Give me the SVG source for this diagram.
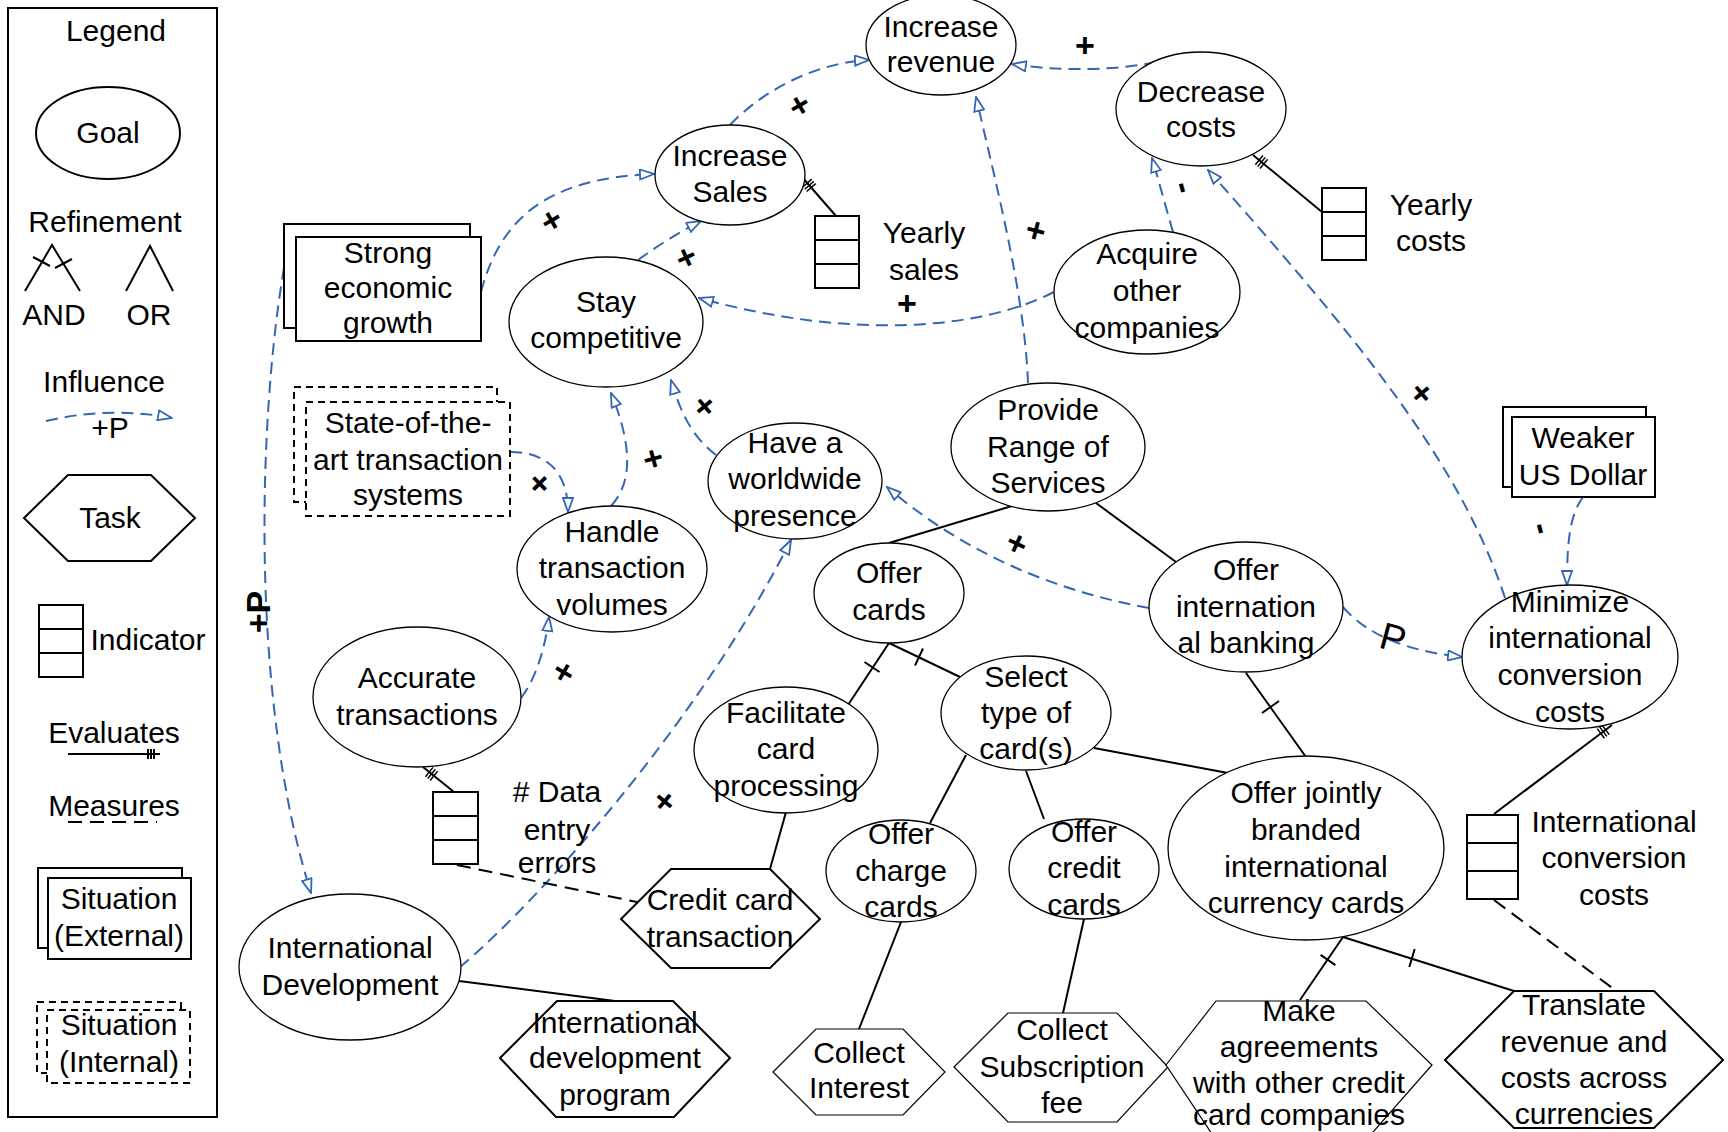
<svg xmlns="http://www.w3.org/2000/svg" width="1728" height="1132" viewBox="0 0 1728 1132">
<style>
text{font-family:"Liberation Sans",Arial,sans-serif;font-size:30px;fill:#000;text-anchor:middle}
.goal{fill:#fff;stroke:#000;stroke-width:1.3}
.box{fill:#fff;stroke:#000;stroke-width:2}
.dbox{fill:#fff;stroke:#000;stroke-width:2;stroke-dasharray:7 5}
.task{fill:#fff;stroke:#000;stroke-width:2}
.task-thin{fill:#fff;stroke:#000;stroke-width:1.2}
.ind{fill:#fff;stroke:#000;stroke-width:2}
.inf{fill:none;stroke:#3366b3;stroke-width:2;stroke-dasharray:12 7;marker-end:url(#open)}
.ref{fill:none;stroke:#000;stroke-width:2}
.evl{fill:none;stroke:#000;stroke-width:2;marker-start:url(#eval)}
.mea{fill:none;stroke:#000;stroke-width:2;stroke-dasharray:14 8}
.lbl{dominant-baseline:central;font-size:34px;font-weight:bold}
.lblp{dominant-baseline:central;font-size:38px}
</style>
<defs>
<marker id="open" viewBox="0 0 16 12" refX="15" refY="6" markerWidth="16" markerHeight="12" markerUnits="userSpaceOnUse" orient="auto">
<path d="M1,1 L15,6 L1,11 z" fill="#fff" stroke="#3366b3" stroke-width="1.8"/>
</marker>
<marker id="eval" viewBox="-2 -8 26 16" refX="0" refY="0" markerWidth="26" markerHeight="16" markerUnits="userSpaceOnUse" orient="auto" overflow="visible">
<path d="M8,-6 L8,6 M11,-6 L11,6 M14,-6 L14,6" stroke="#000" stroke-width="1.5" fill="none"/>
</marker>
</defs>

<!-- Legend -->
<g id="legend">
<rect x="8" y="8" width="209" height="1109" fill="#fff" stroke="#000" stroke-width="2"/>
<text x="116" y="41">Legend</text>
<ellipse cx="108" cy="133" rx="72" ry="46" fill="#fff" stroke="#000" stroke-width="2"/>
<text x="108" y="143">Goal</text>
<text x="105" y="232">Refinement</text>
<path d="M25,291 L52,245 L80,291" class="ref"/>
<path d="M33,257 L50,266 M55,268 L72,259" class="ref" stroke-width="1.6"/>
<path d="M126,291 L150,246 L173,291" class="ref"/>
<text x="54" y="325">AND</text>
<text x="149" y="325">OR</text>
<text x="104" y="392">Influence</text>
<path d="M46,421 Q110,406 172,418" class="inf"/>
<text x="110" y="438">+P</text>
<polygon points="24,518 68,475 151,475 195,518 151,561 68,561" class="task"/>
<text x="110" y="528">Task</text>
<rect x="39" y="605" width="44" height="72" class="ind"/>
<path d="M39,629 H83 M39,653 H83" class="ref"/>
<text x="148" y="650">Indicator</text>
<text x="114" y="743">Evaluates</text>
<path d="M68,754 H160 M148,749 V759 M151,749 V759 M154,749 V759" class="ref" stroke-width="1.6"/>
<text x="114" y="816">Measures</text>
<path d="M68,822 H157" class="mea"/>
<rect x="38" y="868" width="144" height="80" class="box"/>
<rect x="48" y="878" width="143" height="81" class="box"/>
<text x="119" y="909">Situation</text>
<text x="119" y="946">(External)</text>
<rect x="37" y="1002" width="144" height="71" class="dbox"/>
<rect x="47" y="1010" width="143" height="73" class="dbox"/>
<text x="119" y="1035">Situation</text>
<text x="119" y="1072">(Internal)</text>
</g>

<!-- Connectors -->
<g id="connectors">
<!-- influences -->
<path d="M730,125 C765,88 820,62 869,60" class="inf"/>
<path d="M1156,62 C1120,70 1060,72 1012,64" class="inf"/>
<path d="M481,292 C500,220 545,178 654,174" class="inf"/>
<path d="M638,260 Q668,238 701,221" class="inf"/>
<path d="M1054,292 C980,330 850,340 699,298" class="inf"/>
<path d="M1028,383 C1025,300 1000,200 976,97" class="inf"/>
<path d="M1173,232 C1166,208 1160,185 1152,158" class="inf"/>
<path d="M1505,598 C1460,460 1350,330 1208,170" class="inf"/>
<path d="M1583,497 C1570,515 1567,540 1567,585" class="inf"/>
<path d="M1343,607 Q1378,648 1462,657" class="inf"/>
<path d="M510,452 C550,452 568,475 568,512" class="inf"/>
<path d="M611,506 C635,480 630,440 611,393" class="inf"/>
<path d="M716,455 C690,435 680,410 671,380" class="inf"/>
<path d="M1149,608 C1050,590 960,550 887,487" class="inf"/>
<path d="M521,698 C535,680 545,650 549,617" class="inf"/>
<path d="M460,967 C540,900 700,720 791,540" class="inf"/>
<path d="M284,268 C258,420 250,700 311,893" class="inf"/>
<!-- evaluates -->
<path d="M802,177 L836,216" class="evl"/>
<path d="M1253,155 L1322,212" class="evl"/>
<path d="M423,767 L454,792" class="evl"/>
<path d="M1612,725 L1494,814" class="evl"/>
<!-- measures -->
<path d="M457,865 L637,902" class="mea"/>
<path d="M1494,900 L1615,990" class="mea"/>
<!-- refinements -->
<path d="M1012,506 L889,543" class="ref"/>
<path d="M1096,503 L1176,562" class="ref"/>
<path d="M889,643 L848,705 M864.5,662 L879.5,672" class="ref"/>
<path d="M889,643 L960,677 M915,665.5 L923,648.5" class="ref"/>
<path d="M1246,673 L1306,757 M1262,713 L1279,701" class="ref"/>
<path d="M1094,748 L1228,773" class="ref"/>
<path d="M966,755 L930,823" class="ref"/>
<path d="M1026,771 L1044,819" class="ref"/>
<path d="M786,812 L770,869" class="ref"/>
<path d="M901,922 L859,1029" class="ref"/>
<path d="M1084,919 L1063,1013" class="ref"/>
<path d="M1343,937 L1300,1000 M1320.6,954.9 L1335.4,965.1" class="ref"/>
<path d="M1343,937 L1514,991 M1409.3,967 L1414.7,949" class="ref"/>
<path d="M459,981 L615,1001" class="ref"/>
<!-- influence labels -->
<text class="lbl" transform="translate(799,105) rotate(-30)">+</text>
<text class="lbl" transform="translate(1085,45)">+</text>
<text class="lbl" transform="translate(551,220) rotate(-30)">+</text>
<text class="lbl" transform="translate(686,257) rotate(-25)">+</text>
<text class="lbl" transform="translate(907,303)">+</text>
<text class="lbl" transform="translate(1036,230) rotate(15)">+</text>
<text class="lbl" transform="translate(1185,187) rotate(75)">-</text>
<text class="lbl" transform="translate(1422,393) rotate(50)">+</text>
<text class="lbl" transform="translate(1543,528) rotate(75)">-</text>
<text class="lblp" transform="translate(1393,638) rotate(15)">P</text>
<text class="lbl" transform="translate(540,483) rotate(45)">+</text>
<text class="lbl" transform="translate(653,458) rotate(-15)">+</text>
<text class="lbl" transform="translate(705,406) rotate(50)">+</text>
<text class="lbl" transform="translate(1017,543) rotate(25)">+</text>
<text class="lbl" transform="translate(563,672) rotate(-60)">+</text>
<text class="lbl" transform="translate(664,801) rotate(-50)">+</text>
<text class="lbl" transform="translate(258,612) rotate(-90)" font-weight="normal">+P</text>
</g>

<!-- Goals -->
<g id="increase-revenue"><ellipse cx="941" cy="45" rx="75" ry="50" class="goal"/><text x="941" y="37">Increase</text><text x="941" y="72">revenue</text></g>
<g id="decrease-costs"><ellipse cx="1201" cy="109" rx="85" ry="57" class="goal"/><text x="1201" y="102">Decrease</text><text x="1201" y="137">costs</text></g>
<g id="increase-sales"><ellipse cx="730" cy="175" rx="75" ry="50" class="goal"/><text x="730" y="166">Increase</text><text x="730" y="202">Sales</text></g>
<g id="stay-competitive"><ellipse cx="606" cy="322" rx="97" ry="65" class="goal"/><text x="606" y="312">Stay</text><text x="606" y="348">competitive</text></g>
<g id="acquire-other-companies"><ellipse cx="1147" cy="292" rx="93" ry="62" class="goal"/><text x="1147" y="264">Acquire</text><text x="1147" y="301">other</text><text x="1147" y="338">companies</text></g>
<g id="provide-range"><ellipse cx="1048" cy="447" rx="97" ry="64" class="goal"/><text x="1048" y="420">Provide</text><text x="1048" y="457">Range of</text><text x="1048" y="493">Services</text></g>
<g id="worldwide-presence"><ellipse cx="795" cy="481" rx="87" ry="58" class="goal"/><text x="795" y="453">Have a</text><text x="795" y="489">worldwide</text><text x="795" y="526">presence</text></g>
<g id="handle-volumes"><ellipse cx="612" cy="569" rx="95" ry="63" class="goal"/><text x="612" y="542">Handle</text><text x="612" y="578">transaction</text><text x="612" y="615">volumes</text></g>
<g id="offer-cards"><ellipse cx="889" cy="593" rx="75" ry="50" class="goal"/><text x="889" y="583">Offer</text><text x="889" y="620">cards</text></g>
<g id="offer-intl-banking"><ellipse cx="1246" cy="607" rx="97" ry="65" class="goal"/><text x="1246" y="580">Offer</text><text x="1246" y="617">internation</text><text x="1246" y="653">al banking</text></g>
<g id="minimize-conversion"><ellipse cx="1570" cy="657" rx="108" ry="72" class="goal"/><text x="1570" y="612">Minimize</text><text x="1570" y="648">international</text><text x="1570" y="685">conversion</text><text x="1570" y="722">costs</text></g>
<g id="accurate-transactions"><ellipse cx="417" cy="697" rx="104" ry="70" class="goal"/><text x="417" y="688">Accurate</text><text x="417" y="725">transactions</text></g>
<g id="select-type"><ellipse cx="1026" cy="713" rx="85" ry="57" class="goal"/><text x="1026" y="687">Select</text><text x="1026" y="723">type of</text><text x="1026" y="759">card(s)</text></g>
<g id="facilitate-processing"><ellipse cx="786" cy="750" rx="92" ry="63" class="goal"/><text x="786" y="723">Facilitate</text><text x="786" y="759">card</text><text x="786" y="796">processing</text></g>
<g id="offer-jointly"><ellipse cx="1306" cy="848" rx="138" ry="92" class="goal"/><text x="1306" y="803">Offer jointly</text><text x="1306" y="840">branded</text><text x="1306" y="877">international</text><text x="1306" y="913">currency cards</text></g>
<g id="offer-charge"><ellipse cx="901" cy="871" rx="75" ry="51" class="goal"/><text x="901" y="844">Offer</text><text x="901" y="881">charge</text><text x="901" y="917">cards</text></g>
<g id="offer-credit"><ellipse cx="1084" cy="869" rx="75" ry="50" class="goal"/><text x="1084" y="842">Offer</text><text x="1084" y="878">credit</text><text x="1084" y="915">cards</text></g>
<g id="intl-development"><ellipse cx="350" cy="967" rx="111" ry="73" class="goal"/><text x="350" y="958">International</text><text x="350" y="995">Development</text></g>

<!-- Situations -->
<g id="strong-economic-growth"><rect x="284" y="224" width="186" height="104" class="box"/><rect x="296" y="237" width="185" height="104" class="box"/><text x="388" y="263">Strong</text><text x="388" y="298">economic</text><text x="388" y="333">growth</text></g>
<g id="weaker-us-dollar"><rect x="1503" y="407" width="143" height="80" class="box"/><rect x="1512" y="417" width="143" height="80" class="box"/><text x="1583" y="448">Weaker</text><text x="1583" y="485">US Dollar</text></g>
<g id="state-of-the-art"><rect x="294" y="387" width="203" height="115" class="dbox"/><rect x="306" y="402" width="204" height="114" class="dbox"/><text x="408" y="433">State-of-the-</text><text x="408" y="470">art transaction</text><text x="408" y="505">systems</text></g>

<!-- Indicators -->
<g id="yearly-sales"><rect x="815" y="216" width="44" height="72" class="ind"/><path d="M815,240 H859 M815,264 H859" class="ref"/><text x="924" y="243">Yearly</text><text x="924" y="280">sales</text></g>
<g id="yearly-costs"><rect x="1322" y="188" width="44" height="72" class="ind"/><path d="M1322,212 H1366 M1322,236 H1366" class="ref"/><text x="1431" y="215">Yearly</text><text x="1431" y="251">costs</text></g>
<g id="data-entry-errors"><rect x="433" y="792" width="45" height="72" class="ind"/><path d="M433,816 H478 M433,840 H478" class="ref"/><text x="557" y="802"># Data</text><text x="557" y="840">entry</text><text x="557" y="873">errors</text></g>
<g id="intl-conversion-costs"><rect x="1467" y="815" width="51" height="84" class="ind"/><path d="M1467,843 H1518 M1467,871 H1518" class="ref"/><text x="1614" y="832">International</text><text x="1614" y="868">conversion</text><text x="1614" y="905">costs</text></g>

<!-- Tasks -->
<g id="credit-card-transaction"><polygon points="621,919 671,869 770,869 820,919 770,968 671,968" class="task"/><text x="720" y="910">Credit card</text><text x="720" y="947">transaction</text></g>
<g id="intl-development-program"><polygon points="500,1058 557,1001 673,1001 730,1058 674,1117 556,1117" class="task"/><text x="615" y="1033">International</text><text x="615" y="1068">development</text><text x="615" y="1105">program</text></g>
<g id="collect-interest"><polygon points="773,1072 816,1029 903,1029 945,1072 903,1115 816,1115" class="task-thin"/><text x="859" y="1063">Collect</text><text x="859" y="1098">Interest</text></g>
<g id="collect-subscription"><polygon points="954,1067 1008,1013 1117,1013 1168,1067 1117,1122 1008,1122" class="task-thin"/><text x="1062" y="1040">Collect</text><text x="1062" y="1077">Subscription</text><text x="1062" y="1113">fee</text></g>
<g id="make-agreements"><polygon points="1166,1065 1216,1001 1366,1001 1432,1065 1366,1140 1216,1140" class="task-thin"/><text x="1299" y="1021">Make</text><text x="1299" y="1057">agreements</text><text x="1299" y="1093">with other credit</text><text x="1299" y="1125">card companies</text></g>
<g id="translate-revenue"><polygon points="1445,1060 1514,991 1654,991 1723,1060 1654,1128 1514,1128" class="task" stroke-width="2.5"/><text x="1584" y="1015">Translate</text><text x="1584" y="1052">revenue and</text><text x="1584" y="1088">costs across</text><text x="1584" y="1124">currencies</text></g>
</svg>
